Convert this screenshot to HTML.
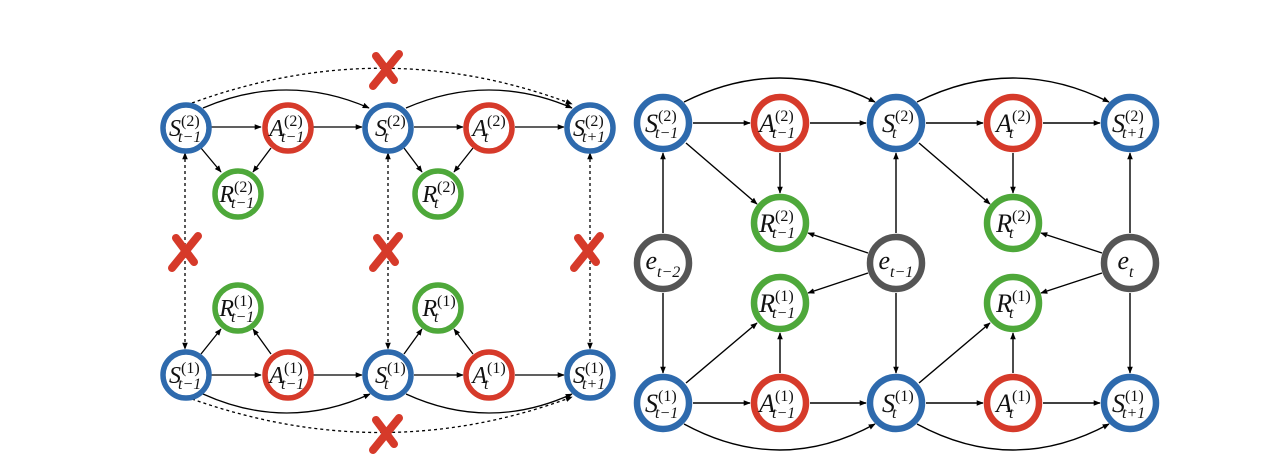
<!DOCTYPE html>
<html><head><meta charset="utf-8"><style>
html,body{margin:0;padding:0;background:#fff;}
svg{display:block;}
text{font-family:"Liberation Serif",serif;fill:#111;}
.m{font-style:italic;font-size:26px;text-anchor:end;}
.ml{font-style:italic;font-size:24px;text-anchor:end;}
.sp{font-size:16px;}
.sb{font-style:italic;font-size:16px;}
</style></head><body>
<svg width="1272" height="474" viewBox="0 0 1272 474" xmlns="http://www.w3.org/2000/svg">
<defs>
<marker id="a" viewBox="0 0 10 10" refX="9" refY="5" markerWidth="7" markerHeight="7" orient="auto-start-reverse" markerUnits="userSpaceOnUse"><path d="M0,1 L10,5 L0,9 z" fill="#000"/></marker>
</defs>

<g stroke="#000" stroke-width="1.3" fill="none" marker-end="url(#a)">
<line x1="211" y1="127" x2="261" y2="127"/>
<line x1="313" y1="127" x2="362" y2="127"/>
<line x1="414" y1="127" x2="463" y2="127"/>
<line x1="515" y1="127" x2="564" y2="127"/>
<line x1="201" y1="148" x2="221" y2="172"/>
<line x1="271" y1="148" x2="253" y2="172"/>
<line x1="404" y1="148" x2="422" y2="172"/>
<line x1="473" y1="148" x2="454" y2="172"/>
<line x1="211" y1="375" x2="261" y2="375"/>
<line x1="313" y1="375" x2="362" y2="375"/>
<line x1="414" y1="375" x2="463" y2="375"/>
<line x1="515" y1="375" x2="564" y2="375"/>
<line x1="201" y1="354" x2="221" y2="329"/>
<line x1="271" y1="354" x2="253" y2="329"/>
<line x1="404" y1="354" x2="422" y2="329"/>
<line x1="473" y1="354" x2="454" y2="329"/>
<path d="M203,108 Q287,72 369,108"/>
<path d="M406,108 Q489,72 572,108"/>
<path d="M203,394 Q287,432 370,394"/>
<path d="M406,394 Q489,432 572,394"/>
</g>
<g stroke="#000" stroke-width="1.3" fill="none" stroke-dasharray="3,3">
<path d="M192,103 Q384,33 572,104" marker-end="url(#a)"/>
<path d="M192,399 Q384,467 572,397" marker-end="url(#a)"/>
<line x1="185" y1="153" x2="185" y2="349" marker-start="url(#a)" marker-end="url(#a)"/>
<line x1="388" y1="153" x2="388" y2="349" marker-start="url(#a)" marker-end="url(#a)"/>
<line x1="590" y1="153" x2="590" y2="349" marker-start="url(#a)" marker-end="url(#a)"/>
</g>
<g stroke="#d63a2a" stroke-width="8" stroke-linecap="round">
<line x1="376" y1="56" x2="394" y2="80"/><line x1="399" y1="54" x2="373" y2="86"/>
<line x1="176" y1="238" x2="194" y2="262"/><line x1="198" y1="236" x2="172" y2="268"/>
<line x1="377" y1="238" x2="395" y2="262"/><line x1="399" y1="236" x2="373" y2="268"/>
<line x1="578" y1="238" x2="596" y2="262"/><line x1="600" y1="236" x2="574" y2="268"/>
<line x1="376" y1="420" x2="394" y2="444"/><line x1="399" y1="418" x2="373" y2="450"/>
</g>
<g fill="#fff" stroke-width="5.5">
<circle cx="186" cy="128" r="23" stroke="#2e6aad"/>
<circle cx="288" cy="128" r="23" stroke="#d63a2a"/>
<circle cx="388" cy="128" r="23" stroke="#2e6aad"/>
<circle cx="489" cy="128" r="23" stroke="#d63a2a"/>
<circle cx="590" cy="128" r="23" stroke="#2e6aad"/>
<circle cx="238" cy="194" r="23" stroke="#4ea83a"/>
<circle cx="438" cy="194" r="23" stroke="#4ea83a"/>
<circle cx="186" cy="375" r="23" stroke="#2e6aad"/>
<circle cx="288" cy="375" r="23" stroke="#d63a2a"/>
<circle cx="388" cy="375" r="23" stroke="#2e6aad"/>
<circle cx="489" cy="375" r="23" stroke="#d63a2a"/>
<circle cx="590" cy="375" r="23" stroke="#2e6aad"/>
<circle cx="238" cy="308" r="23" stroke="#4ea83a"/>
<circle cx="438" cy="308" r="23" stroke="#4ea83a"/>
</g>
<g>
<text class="ml" x="181" y="136">S</text><text class="sp" x="181" y="126">(2)</text><text class="sb" x="178" y="142">t−1</text>
<text class="ml" x="284" y="136">A</text><text class="sp" x="284" y="126">(2)</text><text class="sb" x="281" y="142">t−1</text>
<text class="ml" x="387" y="136">S</text><text class="sp" x="387" y="126">(2)</text><text class="sb" x="384" y="142">t</text>
<text class="ml" x="487" y="136">A</text><text class="sp" x="487" y="126">(2)</text><text class="sb" x="484" y="142">t</text>
<text class="ml" x="585" y="136">S</text><text class="sp" x="585" y="126">(2)</text><text class="sb" x="582" y="142">t+1</text>
<text class="ml" x="234" y="202">R</text><text class="sp" x="234" y="192">(2)</text><text class="sb" x="231" y="208">t−1</text>
<text class="ml" x="437" y="202">R</text><text class="sp" x="437" y="192">(2)</text><text class="sb" x="434" y="208">t</text>
<text class="ml" x="181" y="383">S</text><text class="sp" x="181" y="373">(1)</text><text class="sb" x="178" y="389">t−1</text>
<text class="ml" x="284" y="383">A</text><text class="sp" x="284" y="373">(1)</text><text class="sb" x="281" y="389">t−1</text>
<text class="ml" x="387" y="383">S</text><text class="sp" x="387" y="373">(1)</text><text class="sb" x="384" y="389">t</text>
<text class="ml" x="487" y="383">A</text><text class="sp" x="487" y="373">(1)</text><text class="sb" x="484" y="389">t</text>
<text class="ml" x="585" y="383">S</text><text class="sp" x="585" y="373">(1)</text><text class="sb" x="582" y="389">t+1</text>
<text class="ml" x="234" y="316">R</text><text class="sp" x="234" y="306">(1)</text><text class="sb" x="231" y="322">t−1</text>
<text class="ml" x="437" y="316">R</text><text class="sp" x="437" y="306">(1)</text><text class="sb" x="434" y="322">t</text>
</g>

<g stroke="#000" stroke-width="1.4" fill="none" marker-end="url(#a)">
<line x1="693" y1="123" x2="750" y2="123"/>
<line x1="810" y1="123" x2="866" y2="123"/>
<line x1="926" y1="123" x2="983" y2="123"/>
<line x1="1043" y1="123" x2="1100" y2="123"/>
<line x1="780" y1="153" x2="780" y2="193"/>
<line x1="1013" y1="153" x2="1013" y2="193"/>
<line x1="686" y1="143" x2="757" y2="204"/>
<line x1="919" y1="143" x2="990" y2="204"/>
<line x1="663" y1="233" x2="663" y2="153"/>
<line x1="663" y1="293" x2="663" y2="373"/>
<line x1="896" y1="233" x2="896" y2="153"/>
<line x1="896" y1="293" x2="896" y2="373"/>
<line x1="1130" y1="233" x2="1130" y2="153"/>
<line x1="1130" y1="293" x2="1130" y2="373"/>
<line x1="868" y1="253" x2="808" y2="233"/>
<line x1="868" y1="273" x2="808" y2="293"/>
<line x1="1102" y1="253" x2="1041" y2="233"/>
<line x1="1102" y1="273" x2="1041" y2="293"/>
<line x1="693" y1="403" x2="750" y2="403"/>
<line x1="810" y1="403" x2="866" y2="403"/>
<line x1="926" y1="403" x2="983" y2="403"/>
<line x1="1043" y1="403" x2="1100" y2="403"/>
<line x1="686" y1="383" x2="757" y2="323"/>
<line x1="780" y1="373" x2="780" y2="333"/>
<line x1="919" y1="383" x2="990" y2="323"/>
<line x1="1013" y1="373" x2="1013" y2="333"/>
<path d="M684,102 Q780,54 875,102"/>
<path d="M917,102 Q1013,54 1109,102"/>
<path d="M684,424 Q780,476 875,424"/>
<path d="M917,424 Q1013,476 1109,424"/>
</g>
<g fill="#fff" stroke-width="6.5">
<circle cx="663" cy="123" r="26" stroke="#2e6aad"/>
<circle cx="780" cy="123" r="26" stroke="#d63a2a"/>
<circle cx="896" cy="123" r="26" stroke="#2e6aad"/>
<circle cx="1013" cy="123" r="26" stroke="#d63a2a"/>
<circle cx="1130" cy="123" r="26" stroke="#2e6aad"/>
<circle cx="780" cy="223" r="26" stroke="#4ea83a"/>
<circle cx="1013" cy="223" r="26" stroke="#4ea83a"/>
<circle cx="663" cy="263" r="26" stroke="#555"/>
<circle cx="896" cy="263" r="26" stroke="#555"/>
<circle cx="1130" cy="263" r="26" stroke="#555"/>
<circle cx="780" cy="303" r="26" stroke="#4ea83a"/>
<circle cx="1013" cy="303" r="26" stroke="#4ea83a"/>
<circle cx="663" cy="403" r="26" stroke="#2e6aad"/>
<circle cx="780" cy="403" r="26" stroke="#d63a2a"/>
<circle cx="896" cy="403" r="26" stroke="#2e6aad"/>
<circle cx="1013" cy="403" r="26" stroke="#d63a2a"/>
<circle cx="1130" cy="403" r="26" stroke="#2e6aad"/>
</g>
<g>
<text class="m" x="658" y="132">S</text><text class="sp" x="658" y="121">(2)</text><text class="sb" x="655" y="138">t−1</text>
<text class="m" x="775" y="132">A</text><text class="sp" x="775" y="121">(2)</text><text class="sb" x="772" y="138">t−1</text>
<text class="m" x="895" y="132">S</text><text class="sp" x="895" y="121">(2)</text><text class="sb" x="892" y="138">t</text>
<text class="m" x="1012" y="132">A</text><text class="sp" x="1012" y="121">(2)</text><text class="sb" x="1009" y="138">t</text>
<text class="m" x="1125" y="132">S</text><text class="sp" x="1125" y="121">(2)</text><text class="sb" x="1122" y="138">t+1</text>
<text class="m" x="775" y="232">R</text><text class="sp" x="775" y="221">(2)</text><text class="sb" x="772" y="238">t−1</text>
<text class="m" x="1012" y="232">R</text><text class="sp" x="1012" y="221">(2)</text><text class="sb" x="1009" y="238">t</text>
<text class="m" x="775" y="312">R</text><text class="sp" x="775" y="301">(1)</text><text class="sb" x="772" y="318">t−1</text>
<text class="m" x="1012" y="312">R</text><text class="sp" x="1012" y="301">(1)</text><text class="sb" x="1009" y="318">t</text>
<text class="m" x="658" y="412">S</text><text class="sp" x="658" y="401">(1)</text><text class="sb" x="655" y="418">t−1</text>
<text class="m" x="775" y="412">A</text><text class="sp" x="775" y="401">(1)</text><text class="sb" x="772" y="418">t−1</text>
<text class="m" x="895" y="412">S</text><text class="sp" x="895" y="401">(1)</text><text class="sb" x="892" y="418">t</text>
<text class="m" x="1012" y="412">A</text><text class="sp" x="1012" y="401">(1)</text><text class="sb" x="1009" y="418">t</text>
<text class="m" x="1125" y="412">S</text><text class="sp" x="1125" y="401">(1)</text><text class="sb" x="1122" y="418">t+1</text>
<text class="m" x="657" y="269">e</text><text class="sb" x="657" y="277">t−2</text>
<text class="m" x="890" y="269">e</text><text class="sb" x="890" y="277">t−1</text>
<text class="m" x="1129" y="269">e</text><text class="sb" x="1129" y="277">t</text>
</g>
</svg>
</body></html>
